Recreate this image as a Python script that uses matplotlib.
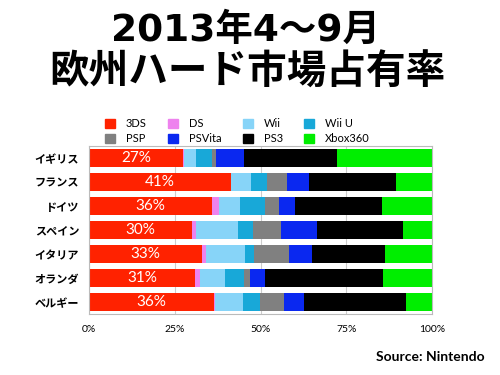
import matplotlib
matplotlib.use("Agg")
import matplotlib.pyplot as plt
from matplotlib.patches import Patch
import numpy as np

plt.rcParams['font.family'] = ['Noto Sans CJK JP', 'DejaVu Sans']

# data (share of hardware sales, %)
countries = ['イギリス', 'フランス', 'ドイツ', 'スペイン', 'イタリア', 'オランダ', 'ベルギー']
platforms = ['3DS', 'DS', 'Wii', 'Wii U', 'PSP', 'PSVita', 'PS3', 'Xbox360']
ds3 = [27.4, 41.4, 35.9, 29.9, 32.9, 30.9, 36.3]
ds = [0.3, 0.0, 1.9, 1.4, 1.2, 1.5, 0.3]
wii = [3.4, 5.8, 6.3, 12.0, 11.5, 7.3, 8.3]
wiiu = [4.7, 4.7, 7.3, 4.4, 2.4, 5.6, 4.9]
psp = [1.2, 5.7, 3.9, 8.3, 10.2, 1.7, 7.0]
psvita = [8.3, 6.6, 4.7, 10.5, 6.8, 4.2, 5.8]
ps3 = [27.0, 25.3, 25.3, 25.0, 21.4, 34.4, 29.7]
xbox = [27.7, 10.5, 14.7, 8.5, 13.6, 14.4, 7.7]
pct_labels = ['27%', '41%', '36%', '30%', '33%', '31%', '36%']
colors = ['#ff2200', '#ee82ee', '#87d4f8', '#18a8d8', '#808080', '#0a28f0', '#000000', '#00ee00']

series = [ds3, ds, wii, wiiu, psp, psvita, ps3, xbox]

fig = plt.figure(figsize=(5, 3.75), dpi=100)
ax = fig.add_axes([0.178, 0.163, 0.686, 0.448])

y = np.arange(len(countries))
left = np.zeros(len(countries))
for vals, c, name in zip(series, colors, platforms):
    ax.barh(y, vals, left=left, color=c, height=0.74, label=name, zorder=2)
    left = left + np.array(vals)

for i, t in enumerate(pct_labels):
    ax.text(ds3[i] / 2, y[i], t, color='white', ha='center', va='center',
            fontsize=11, family=['Lato', 'DejaVu Sans'], zorder=3)

ax.set_xlim(0, 100)
ax.set_ylim(len(countries) - 0.5, -0.5)
ax.set_yticks(y)
ax.set_yticklabels(countries, fontsize=8, fontweight='bold')
ax.set_xticks([0, 25, 50, 75, 100])
ax.set_xticklabels(['0%', '25%', '50%', '75%', '100%'], fontsize=7.5,
                   family=['Lato', 'DejaVu Sans'])
ax.tick_params(length=0, pad=7)
ax.tick_params(axis='x', pad=8)
ax.grid(axis='x', color='#cccccc', lw=0.8, zorder=0)
for s in ax.spines.values():
    s.set_color('#bbbbbb')

# legend, filled column-first so rows read 3DS DS Wii Wii U / PSP PSVita PS3 Xbox360
order = [0, 4, 1, 5, 2, 6, 3, 7]
handles = [Patch(color=colors[k]) for k in order]
labels = [platforms[k] for k in order]
fig.legend(handles, labels, ncol=4, loc='center', bbox_to_anchor=(0.475, 0.65),
           frameon=False, handlelength=0.9, handleheight=0.9,
           columnspacing=1.9, handletextpad=1.0, labelspacing=0.35,
           prop={'family': ['Lato', 'DejaVu Sans'], 'size': 8})

fig.text(0.49, 0.918, '2013年4～9月', ha='center', va='center',
         fontsize=27, fontweight='bold', family=['DejaVu Sans', 'Noto Sans CJK JP'])
fig.text(0.495, 0.808, '欧州ハード市場占有率', ha='center', va='center',
         fontsize=28.5, fontweight='bold')
fig.text(0.97, 0.047, 'Source: Nintendo', ha='right', va='center',
         fontsize=10, fontweight='bold', family=['Lato', 'DejaVu Sans'])

fig.savefig('out.png', dpi=100)
